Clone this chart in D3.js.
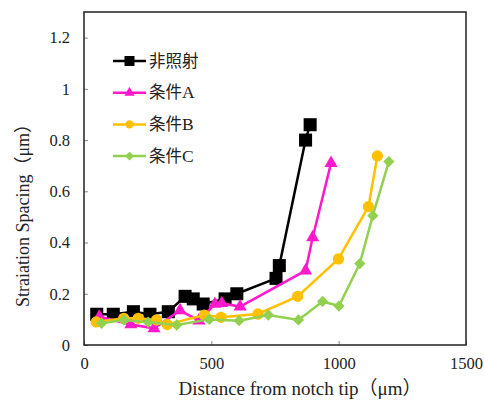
<!DOCTYPE html>
<html>
<head>
<meta charset="utf-8">
<script src="https://cdn.jsdelivr.net/npm/d3@7"></script>
<style>
  body { margin: 0; background: #fff; }
  svg text { font-family: "Liberation Serif", "Noto Sans CJK JP", serif; }
  .cjk { font-family: "Noto Sans CJK JP", sans-serif; }
</style>
</head>
<body>
<svg id="chart"></svg>
<script>
// series values (x: distance um, y: spacing um)
const names = ["非照射", "条件A", "条件B", "条件C"];
const colors = ["#000000", "#ff19cc", "#ffc000", "#92d050"];
const shapes = ["square", "triangle", "circle", "diamond"];

const x0 = [50, 115, 194, 259, 331, 397, 429, 468, 554, 600, 754, 767, 870, 888];
const y0 = [0.12, 0.12, 0.13, 0.12, 0.13, 0.19, 0.18, 0.16, 0.18, 0.20, 0.26, 0.31, 0.80, 0.86];

const xA = [60, 184, 275, 377, 451, 514, 541, 613, 870, 898, 970];
const yA = [0.11, 0.08, 0.065, 0.135, 0.095, 0.16, 0.163, 0.15, 0.29, 0.42, 0.71];

const xB = [48, 156, 213, 285, 327, 473, 538, 683, 839, 999, 1117, 1152];
const yB = [0.09, 0.104, 0.104, 0.098, 0.08, 0.117, 0.108, 0.121, 0.19, 0.336, 0.54, 0.738];

const xC = [69, 157, 252, 364, 492, 609, 724, 842, 937, 1001, 1083, 1134, 1197];
const yC = [0.085, 0.098, 0.089, 0.078, 0.10, 0.095, 0.117, 0.098, 0.17, 0.152, 0.318, 0.505, 0.716];

const xTicks = [0, 500, 1000, 1500];
const yTicks = [0, 0.2, 0.4, 0.6, 0.8, 1, 1.2];

const seriesX = [x0, xA, xB, xC];
const seriesY = [y0, yA, yB, yC];

const width = 484, height = 400;
const margin = { top: 12, right: 18, bottom: 55, left: 84 };
const innerW = width - margin.left - margin.right;
const innerH = height - margin.top - margin.bottom;

const svg = d3.select("#chart").attr("width", width).attr("height", height);
const chart = svg.append("g").attr("transform", `translate(${margin.left}, ${margin.top})`);

const xscale = d3.scaleLinear().domain([0, 1500]).range([0, innerW]);
const yscale = d3.scaleLinear().domain([0, 1.3]).range([innerH, 0]);

// axes with inward ticks
const xaxis = d3.axisBottom(xscale).tickValues(xTicks).tickSize(-4).tickSizeOuter(0).tickPadding(12)
  .tickFormat(d3.format("d"));
const yaxis = d3.axisLeft(yscale).tickValues(yTicks).tickSize(-4).tickSizeOuter(0).tickPadding(14)
  .tickFormat(d => String(d));

const xg = chart.append("g").attr("transform", `translate(0, ${innerH})`).call(xaxis);
const yg = chart.append("g").call(yaxis);
[xg, yg].forEach(g => {
  g.select(".domain").remove();
  g.selectAll(".tick line").attr("stroke", "#888");
  g.selectAll(".tick text").attr("fill", "#222").style("font-size", "16.5px");
});

chart.append("rect")
  .attr("x", 0).attr("y", 0).attr("width", innerW).attr("height", innerH)
  .attr("fill", "none").attr("stroke", "#222").attr("stroke-width", 1.5);

function symbolPath(shape, big) {
  if (shape === "square") return d3.symbol(d3.symbolSquare, big ? 170 : 100)();
  if (shape === "triangle") return d3.symbol(d3.symbolTriangle, big ? 75 : 45)();
  if (shape === "circle") return d3.symbol(d3.symbolCircle, big ? 100 : 55)();
  return d3.symbol(d3.symbolSquare, big ? 64 : 40)();
}

const line = d3.line().x(d => xscale(d[0])).y(d => yscale(d[1]));

names.forEach((name, i) => {
  const pts = seriesX[i].map((x, k) => [x, seriesY[i][k]]);
  const g = chart.append("g");
  g.append("path").datum(pts)
    .attr("d", line)
    .attr("fill", "none")
    .attr("stroke", colors[i])
    .attr("stroke-width", 2.5);
  g.selectAll("path.mark").data(pts).join("path")
    .attr("class", "mark")
    .attr("d", symbolPath(shapes[i], true))
    .attr("transform", d => `translate(${xscale(d[0])}, ${yscale(d[1])})` + (shapes[i] === "diamond" ? " rotate(45)" : ""))
    .attr("fill", colors[i]);
});

// legend: split CJK and latin parts so the letter gets the serif face
const legend = svg.append("g");
names.forEach((name, i) => {
  const ly = 61 + i * 31.7;
  legend.append("line")
    .attr("x1", 113).attr("x2", 146).attr("y1", ly).attr("y2", ly)
    .attr("stroke", colors[i]).attr("stroke-width", 2.5);
  legend.append("path")
    .attr("d", symbolPath(shapes[i], false))
    .attr("transform", `translate(129.5, ${ly})` + (shapes[i] === "diamond" ? " rotate(45)" : ""))
    .attr("fill", colors[i]);
  const t = legend.append("text")
    .attr("x", 149).attr("y", ly).attr("dy", "0.35em")
    .attr("fill", "#222")
    .style("font-size", "16.5px");
  const m = name.match(/^([^A-Za-z]+)([A-Za-z]*)$/);
  t.append("tspan").attr("class", "cjk").text(m[1]);
  if (m[2]) t.append("tspan").style("font-size", "17.5px").text(m[2]);
});

// axis titles
svg.append("text")
  .attr("x", 300).attr("y", 395)
  .attr("text-anchor", "middle")
  .attr("fill", "#222")
  .style("font-size", "19px")
  .text("Distance from notch tip（μm）");

svg.append("text")
  .attr("transform", `rotate(-90)`)
  .attr("x", -211).attr("y", 23)
  .attr("dy", "0.35em")
  .attr("text-anchor", "middle")
  .attr("fill", "#222")
  .style("font-size", "18px")
  .text("Straiation Spacing（μm）");
</script>
</body>
</html>
